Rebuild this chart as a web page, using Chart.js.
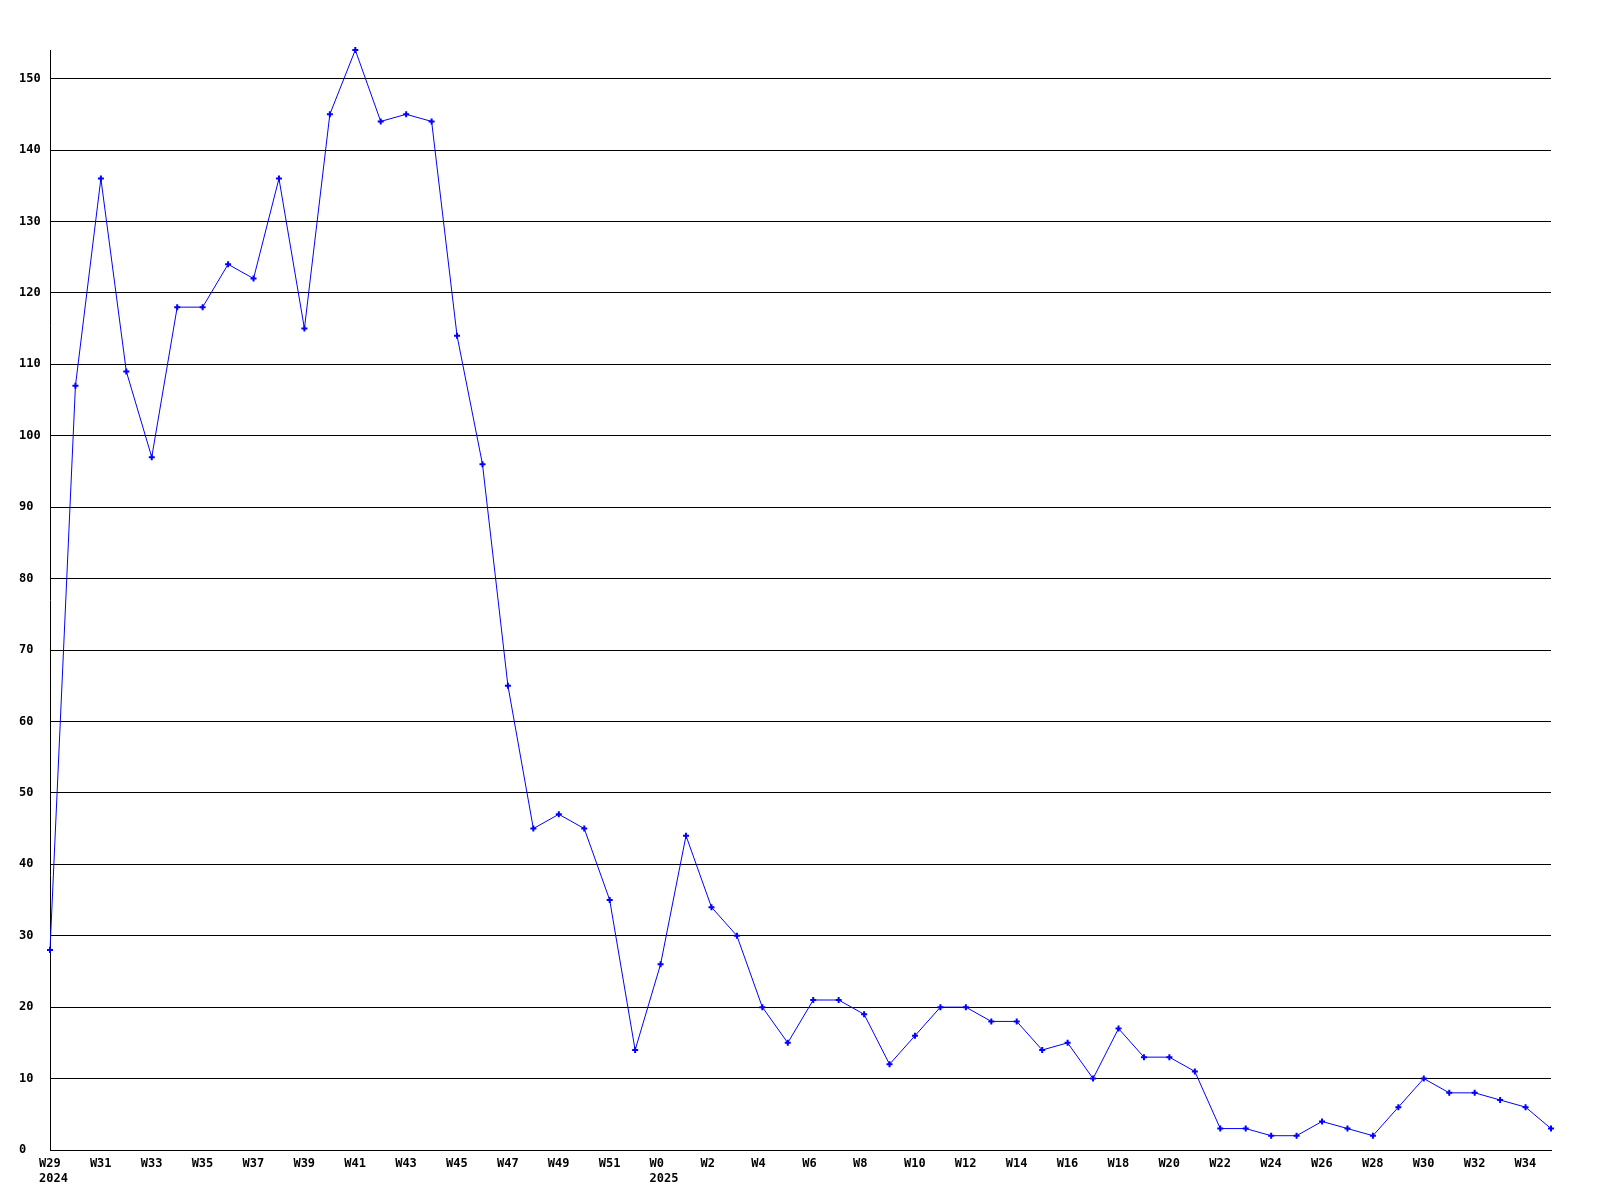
<!DOCTYPE html>
<html><head><meta charset="utf-8">
<script src="https://cdn.jsdelivr.net/npm/chart.js@4/dist/chart.umd.min.js"></script>
<style>html,body{margin:0;padding:0;background:#fff}canvas{display:block}</style>
</head><body>
<canvas id="c" width="1600" height="1200"></canvas>
<script>
const weeks2024 = [29,30,31,32,33,34,35,36,37,38,39,40,41,42,43,44,45,46,47,48,49,50,51,52];
const values2024 = [28,107,136,109,97,118,118,124,122,136,115,145,154,144,145,144,114,96,65,45,47,45,35,14];
const weeks2025 = [0,1,2,3,4,5,6,7,8,9,10,11,12,13,14,15,16,17,18,19,20,21,22,23,24,25,26,27,28,29,30,31,32,33,34,35];
const values2025 = [26,44,34,30,20,15,21,21,19,12,16,20,20,18,18,14,15,10,17,13,13,11,3,3,2,2,4,3,2,6,10,8,8,7,6,3];
const years = ['2024','2025'];
const yMin = 0, yMax = 154, yStep = 10;

const labels = [];
const yearMark = [];
weeks2024.forEach((w,i)=>{ labels.push('W'+w); yearMark.push(i===0 ? years[0] : null); });
weeks2025.forEach((w,i)=>{ labels.push('W'+w); yearMark.push(i===0 ? years[1] : null); });
const values = values2024.concat(values2025);

const font = {family: '"DejaVu Sans Mono", monospace', size: 12, weight: 'bold', lineHeight: 1.25};

new Chart(document.getElementById('c'), {
  type: 'line',
  data: {
    labels: labels,
    datasets: [{
      data: values,
      borderColor: '#0000ff',
      backgroundColor: '#0000ff',
      borderWidth: 1,
      tension: 0,
      pointStyle: 'cross',
      pointRadius: 3,
      pointBorderWidth: 2,
      pointHoverRadius: 3,
      fill: false,
      clip: false
    }]
  },
  options: {
    responsive: false,
    animation: false,
    events: [],
    layout: {padding: {left: 19, right: 49, top: 50, bottom: 0}},
    plugins: {legend: {display: false}, tooltip: {enabled: false}},
    scales: {
      x: {
        type: 'category',
        offset: false,
        grid: {display: false, drawTicks: false},
        border: {display: true, color: '#000', width: 1},
        ticks: {
          autoSkip: false, maxRotation: 0, minRotation: 0,
          align: 'start', labelOffset: -11, padding: 6,
          color: '#000', font: font,
          callback: function(v, i) {
            if (i % 2 !== 0) return null;
            const l = labels[i];
            return yearMark[i] ? [l, yearMark[i]] : l;
          }
        },
        afterFit: function(s){ s.height = 50; }
      },
      y: {
        min: yMin, max: yMax,
        grid: {color: '#000', lineWidth: 1, drawTicks: false},
        border: {display: true, color: '#000', width: 1},
        ticks: {stepSize: yStep, crossAlign: 'far', padding: 0, color: '#000', font: font},
        afterBuildTicks: function(s){ s.ticks = s.ticks.filter(t => t.value % yStep === 0); },
        afterFit: function(s){ s.width = 31; }
      }
    }
  }
});
</script>
</body></html>
